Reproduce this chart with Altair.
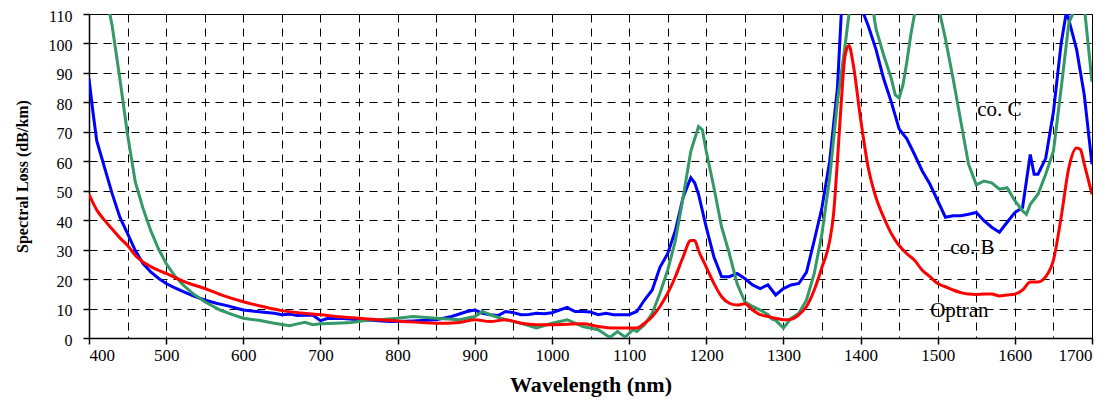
import altair as alt
import pandas as pd

# ---- data ----
wl_b = [400, 405, 410, 420, 430, 440, 450, 460, 470, 480, 490, 500, 510, 520, 535, 550, 565, 580, 590, 600,
        620, 640, 650, 660, 670, 690, 700, 710, 730, 750, 770, 790, 800, 820, 850, 870, 890, 900, 910, 920,
        930, 940, 950, 960, 970, 980, 990, 1000, 1010, 1020, 1025, 1030, 1040, 1050, 1060, 1070, 1080, 1090,
        1100, 1110, 1120, 1130, 1140, 1150, 1160, 1170, 1180, 1185, 1190, 1200, 1210, 1220, 1230, 1240, 1250,
        1260, 1270, 1280, 1290, 1300, 1310, 1320, 1330, 1340, 1350, 1360, 1370, 1375, 1380, 1390, 1400, 1404,
        1410, 1420, 1430, 1440, 1450, 1460, 1470, 1480, 1490, 1500, 1510, 1520, 1530, 1540, 1550, 1560, 1570,
        1580, 1590, 1600, 1610, 1620, 1625, 1630, 1640, 1650, 1660, 1667, 1670, 1680, 1690, 1700]
loss_b = [88, 77, 67, 58, 49, 41, 35.4, 29.7, 25.3, 22.4, 20.3, 18.5, 17.2, 16, 14.3, 12.9, 11.8, 10.9, 10.2, 9.5,
          8.9, 8.4, 7.9, 8.1, 7.6, 7.8, 5.9, 6.7, 6.6, 6.2, 5.9, 5.6, 5.6, 5.8, 6.2, 7.3, 9, 9.5, 8.4, 7.9,
          7.6, 9, 8.6, 7.9, 8, 8.4, 8.2, 8.6, 9.5, 10.4, 9.6, 9, 9, 8.8, 7.9, 8.4, 7.9, 7.9,
          7.9, 9, 12.9, 16.3, 24, 28.6, 36.5, 47.7, 54.4, 52.7, 48.8, 37.6, 27.5, 20.8, 20.8, 21.9, 20.2,
          18, 16.8, 18, 14.6, 16.8, 18, 18.5, 22.4, 33.1, 44.3, 60, 84.7, 110, 125, 130, 120, 110,
          106, 98, 88, 80, 71, 67.6, 62.3, 56.7, 52.2, 46.6, 41, 41.5, 41.5, 42, 42.6, 39.8, 37.6,
          35.9, 39.3, 42.6, 44.3, 62.3, 55.6, 55.6, 61, 76.7, 100, 111, 108, 98, 82.5, 59]

wl_c = [422, 427, 430, 435, 440, 450, 460, 470, 480, 490, 500, 510, 520, 535, 550, 570, 585, 600, 620, 640,
        660, 670, 680, 690, 700, 720, 740, 760, 780, 800, 820, 850, 880, 900, 910, 920, 940, 960, 980, 1000,
        1020, 1040, 1060, 1075, 1085, 1095, 1105, 1110, 1120, 1130, 1140, 1150, 1160, 1170, 1180, 1190, 1195,
        1200, 1210, 1220, 1230, 1240, 1250, 1260, 1270, 1280, 1285, 1290, 1300, 1310, 1320, 1330, 1340, 1350,
        1360, 1370, 1380, 1385, 1395, 1410, 1417, 1420, 1430, 1440, 1445, 1450, 1455, 1460, 1465, 1470, 1480,
        1495, 1503, 1510, 1520, 1530, 1540, 1550, 1560, 1570, 1580, 1590, 1600, 1610, 1615, 1620, 1630, 1640,
        1650, 1660, 1670, 1675, 1683, 1691, 1700]
loss_c = [122, 110, 106, 97, 88, 69, 53, 44, 36.5, 30.3, 25.3, 21.5, 18.5, 15, 12.3, 9.5, 8, 6.7, 6, 5,
          4.2, 4.8, 5.3, 4.5, 4.8, 5, 5.3, 6, 6.3, 6.7, 7.3, 6.7, 6.2, 7.3, 9, 7.9, 6.2, 5, 3.4, 5,
          6.2, 3.9, 2.8, 0.2, 2.2, 0.3, 2.8, 2.2, 4.5, 8.4, 15.2, 23, 33, 47.7, 63.4, 71.8, 70.7,
          63.4, 51, 37.6, 28.6, 18.5, 12.3, 10.7, 9.5, 7.9, 6.5, 6, 3.4, 6.7, 8.4, 12.9, 21.9, 35.4,
          54.4, 80.2, 99.3, 110, 125, 120, 110, 105, 96, 88, 82.5, 81.4, 85.9, 93.7, 102.7, 110, 125,
          125, 110, 101.6, 88, 73.5, 59, 52, 53.3, 52.7, 50.5, 51, 46.6, 43.2, 42, 45.4, 48.8, 55.6,
          63.4, 84.7, 107, 110, 125, 110, 87]

wl_o = [400, 410, 420, 430, 440, 450, 462, 475, 490, 500, 525, 550, 575, 600, 625, 650, 675, 700, 725, 750,
        775, 800, 850, 880, 900, 920, 940, 960, 980, 1000, 1040, 1060, 1080, 1110, 1120, 1130, 1140, 1150,
        1160, 1170, 1180, 1185, 1190, 1200, 1210, 1220, 1230, 1240, 1250, 1260, 1270, 1280, 1290, 1300, 1310,
        1320, 1330, 1340, 1350, 1360, 1365, 1370, 1375, 1380, 1385, 1390, 1400, 1410, 1420, 1430, 1440, 1450,
        1460, 1470, 1480, 1490, 1500, 1510, 1520, 1530, 1540, 1550, 1560, 1570, 1580, 1590, 1600, 1610, 1620,
        1630, 1640, 1650, 1660, 1670, 1680, 1685, 1690, 1700]
loss_o = [48.8, 43.5, 40, 37, 34, 31.4, 27.5, 25, 23, 21.9, 19, 16.8, 14.3, 12.3, 10.7, 9.3, 8.5, 7.9, 7.2, 6.7,
          6.2, 5.8, 5, 5.3, 6.2, 5.6, 6.2, 5, 4.5, 4.5, 4.8, 3.9, 3.4, 3.4, 5, 7.3, 10.7, 15.2,
          20.8, 27.5, 33.1, 33.1, 29.7, 24.1, 18.5, 14, 11.8, 11.2, 11.6, 9.5, 7.9, 7.3, 6.7, 6.2, 6.4,
          7.9, 10.7, 16.3, 24, 33, 42, 60, 80, 96, 99.3, 93.7, 74.6, 57.8, 47.7, 41, 35.4, 31.4,
          28.6, 26.4, 23, 20.8, 18.5, 17.4, 16.3, 15.4, 14.9, 14.8, 14.9, 14.9, 14.3, 14.6, 14.9, 16.3, 19,
          19, 20.8, 26.4, 41, 57.8, 64.5, 64, 59, 48.8]

label_text = ["co. C", "co. B", "Optran"]
label_x = [1580, 1545, 1528]
label_y = [77.5, 30.4, 9.2]

x_ticks = list(range(400, 1701, 50))
y_ticks = list(range(0, 111, 10))

SERIF = "Liberation Serif"

df_b = pd.DataFrame({"wl": wl_b, "loss": loss_b})
df_c = pd.DataFrame({"wl": wl_c, "loss": loss_c})
df_o = pd.DataFrame({"wl": wl_o, "loss": loss_o})
df_l = pd.DataFrame({"text": label_text, "wl": label_x, "loss": label_y})

xscale = alt.Scale(domain=[400, 1700], nice=False, zero=False)
yscale = alt.Scale(domain=[0, 110], nice=False, zero=True)

xaxis = alt.Axis(
    values=x_ticks,
    labelExpr="datum.value % 100 === 0 ? datum.label : ''",
    format="d",
    grid=True, gridColor="black", gridDash=[8, 6], gridOpacity=1, gridWidth=1,
    tickColor={"condition": {"test": "datum.value % 100 === 0", "value": "black"}, "value": "transparent"},
    tickSize=6, tickWidth=1.5,
    domainColor="black", domainWidth=1.5,
    labelFont=SERIF, labelFontSize=17, labelColor="black", labelPadding=3,
    title="Wavelength (nm)", titleFont=SERIF, titleFontSize=22, titleFontWeight="bold",
    titleColor="black", titlePadding=11,
)
yaxis = alt.Axis(
    values=y_ticks,
    format="d",
    grid=True, gridColor="black", gridDash=[8, 6], gridOpacity=1, gridWidth=1,
    tickColor="black", tickSize=6, tickWidth=1.5,
    domainColor="black", domainWidth=1.5,
    labelFont=SERIF, labelFontSize=16, labelColor="black", labelPadding=11, labelOffset=2,
    title="Spectral Loss (dB/km)", titleFont=SERIF, titleFontSize=16, titleFontWeight="bold",
    titleColor="black", titlePadding=18,
)

def line(df, color, interp):
    return alt.Chart(df).mark_line(color=color, strokeWidth=3, clip=True, interpolate=interp).encode(
        x=alt.X("wl:Q", scale=xscale, axis=xaxis),
        y=alt.Y("loss:Q", scale=yscale, axis=yaxis),
    )

blue = line(df_b, "#0000FF", "linear")
green = line(df_c, "#339966", "linear")
red = line(df_o, "#FF0000", "monotone")

labels = alt.Chart(df_l).mark_text(font=SERIF, fontSize=21, color="black", baseline="middle", align="center").encode(
    x=alt.X("wl:Q", scale=xscale, axis=xaxis),
    y=alt.Y("loss:Q", scale=yscale, axis=yaxis),
    text="text:N",
)

chart = alt.layer(blue, green, red, labels).properties(
    width=1003, height=324,
    autosize=alt.AutoSizeParams(type="none"),
    padding={"left": 81, "top": 6, "right": 16, "bottom": 62},
).configure_view(stroke="black", strokeWidth=1)

chart.save("out.html", embed_options={"renderer": "svg", "actions": False})
